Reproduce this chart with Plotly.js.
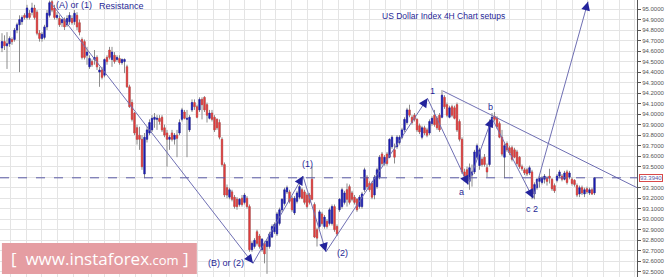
<!DOCTYPE html>
<html><head><meta charset="utf-8">
<script src="https://cdn.plot.ly/plotly-3.0.1.min.js"></script>
<style>html,body{margin:0;padding:0;background:#fff}#chart{width:665px;height:277px}</style>
</head><body><div id="chart"></div>
<script>
// US Dollar Index, 4H candles
const open = [
94.63,94.69,94.65,94.67,94.71,94.71,94.80,94.85,94.88,94.94,
94.92,94.96,94.97,95.01,94.97,94.77,94.72,94.73,94.83,94.94,
95.07,95.01,94.92,94.91,94.87,94.90,94.85,94.88,94.91,94.88,
94.94,94.87,94.71,94.69,94.56,94.45,94.50,94.52,94.54,94.40,
94.42,94.37,94.54,94.61,94.52,94.56,94.52,94.53,94.49,94.50,
94.45,94.26,94.11,94.01,93.87,93.80,93.76,93.43,93.76,93.82,
93.85,93.95,93.95,93.96,93.97,93.87,93.82,93.76,93.82,93.76,
93.80,93.82,93.95,94.02,93.95,93.85,94.04,94.11,94.07,94.04,
94.14,94.16,94.09,93.96,94.01,93.97,93.95,93.92,93.76,93.52,
93.30,93.21,93.26,93.21,93.19,93.14,93.20,93.16,93.20,93.12,
92.71,92.74,92.88,92.84,92.71,92.77,92.74,92.74,92.83,92.88,
92.86,92.96,93.09,93.15,93.26,93.26,93.20,93.06,93.17,93.21,
93.28,93.26,93.23,93.23,93.38,93.14,92.90,92.93,93.05,92.93,
92.98,92.96,92.96,93.12,92.93,93.09,93.12,93.16,93.28,93.31,
93.25,93.21,93.19,93.12,93.12,93.28,93.40,93.34,93.34,93.23,
93.31,93.40,93.62,93.53,93.62,93.59,93.69,93.66,93.69,93.73,
93.78,93.85,93.92,94.04,93.97,93.99,93.95,93.89,93.78,93.87,
93.85,93.82,93.91,93.99,93.96,93.99,93.97,94.16,94.09,93.97,
94.07,94.06,94.09,93.93,93.76,93.45,93.47,93.36,93.42,93.45,
93.59,93.51,93.57,93.59,93.49,93.52,93.89,93.98,93.96,93.91,
93.78,93.59,93.72,93.68,93.68,93.66,93.64,93.59,93.50,93.47,
93.47,93.44,93.45,93.24,93.30,93.36,93.35,93.38,93.39,93.41,
93.38,93.32,93.37,93.41,93.41,93.38,93.45,93.40,93.38,93.37,
93.32,93.24,93.30,93.24,93.29,93.25,93.28,93.25];
const high = [
94.77,94.75,94.78,94.74,94.73,94.82,94.87,94.94,94.94,94.96,
95.04,94.99,95.06,95.04,94.99,94.80,94.78,94.85,94.99,95.08,
95.09,95.04,94.97,94.94,94.91,94.92,94.94,94.97,94.94,94.99,
94.97,94.90,94.73,94.71,94.64,94.56,94.52,94.61,94.56,94.45,
94.45,94.53,94.56,94.64,94.64,94.59,94.56,94.56,94.53,94.53,
94.47,94.28,94.14,94.02,93.90,93.88,93.80,93.82,93.88,93.95,
93.99,94.01,93.99,93.99,93.99,93.90,93.85,93.80,93.85,93.82,
93.85,93.95,94.06,94.04,94.04,93.99,94.14,94.14,94.09,94.16,
94.16,94.17,94.11,94.04,94.04,93.99,93.96,93.95,93.78,93.54,
93.33,93.30,93.28,93.23,93.21,93.20,93.23,93.25,93.22,93.14,
92.79,92.82,92.90,92.86,92.82,92.79,92.81,92.88,92.95,92.97,
93.07,93.11,93.20,93.30,93.32,93.28,93.22,93.22,93.27,93.33,
93.30,93.28,93.25,93.25,93.50,93.16,92.92,93.09,93.07,93.04,
93.00,93.11,93.14,93.14,92.95,93.20,93.30,93.27,93.34,93.33,
93.27,93.23,93.20,93.23,93.26,93.49,93.42,93.36,93.36,93.42,
93.49,93.61,93.64,93.61,93.64,93.77,93.80,93.72,93.80,93.80,
93.87,93.97,94.06,94.09,93.99,94.01,93.96,93.91,93.89,93.89,
93.87,93.95,93.98,94.04,93.98,94.01,94.23,94.18,94.11,94.08,
94.09,94.08,94.11,93.95,93.78,93.48,93.50,93.53,93.52,93.66,
93.72,93.68,93.59,93.62,93.53,93.95,94.01,94.02,93.98,93.93,
93.85,93.72,93.74,93.70,93.70,93.68,93.66,93.60,93.52,93.49,
93.49,93.51,93.47,93.35,93.39,93.41,93.41,93.43,93.41,93.48,
93.39,93.34,93.43,93.47,93.43,93.46,93.47,93.46,93.40,93.38,
93.34,93.32,93.32,93.30,93.31,93.30,93.30,93.40];
const low = [
94.59,94.61,94.43,94.64,94.66,94.69,94.77,94.40,94.85,94.90,
94.90,94.90,94.94,94.90,94.75,94.69,94.69,94.71,94.80,94.92,
94.97,94.90,94.90,94.83,94.83,94.80,94.83,94.85,94.85,94.85,
94.80,94.75,94.52,94.52,94.47,94.43,94.45,94.47,94.42,94.26,
94.33,94.35,94.47,94.52,94.45,94.48,94.50,94.47,94.47,94.39,
94.25,94.06,93.93,93.80,93.71,93.66,93.47,93.39,93.73,93.80,
93.83,93.87,93.85,93.90,93.83,93.78,93.50,93.66,93.74,93.71,
93.59,93.80,93.93,93.95,93.59,93.83,94.02,94.04,93.96,94.02,
93.95,94.02,93.92,93.95,93.93,93.83,93.85,93.76,93.50,93.21,
93.20,93.19,93.17,93.10,93.09,93.12,93.12,93.14,93.10,92.69,
92.69,92.72,92.75,92.72,92.69,92.58,92.48,92.72,92.82,92.86,
92.84,92.94,93.07,93.13,93.24,93.15,93.07,93.04,93.15,93.19,
93.19,93.14,93.10,93.14,93.18,92.82,92.74,92.91,92.94,92.91,
92.91,92.94,92.94,92.88,92.84,93.07,93.10,93.14,93.12,93.14,
93.17,93.14,93.07,93.10,93.10,93.26,93.29,93.26,93.19,93.19,
93.29,93.38,93.51,93.51,93.51,93.58,93.67,93.53,93.67,93.71,
93.76,93.83,93.90,93.97,93.90,93.93,93.83,93.81,93.76,93.80,
93.78,93.80,93.89,93.88,93.85,93.83,93.96,94.05,93.97,93.96,
93.97,93.95,93.83,93.74,93.43,93.39,93.38,93.28,93.31,93.43,
93.57,93.47,93.50,93.50,93.40,93.50,93.87,93.93,93.86,93.77,
93.60,93.39,93.64,93.61,93.55,93.58,93.51,93.48,93.46,93.42,
93.41,93.42,93.19,93.19,93.28,93.30,93.33,93.34,93.32,93.34,
93.27,93.25,93.35,93.39,93.36,93.37,93.33,93.38,93.32,93.31,
93.21,93.21,93.23,93.21,93.24,93.23,93.23,93.23];
const close = [
94.69,94.65,94.67,94.72,94.69,94.80,94.85,94.90,94.92,94.92,
95.01,94.92,95.01,94.92,94.77,94.72,94.76,94.83,94.96,95.06,
94.99,94.92,94.94,94.85,94.90,94.83,94.91,94.94,94.87,94.96,
94.83,94.78,94.54,94.54,94.59,94.53,94.47,94.54,94.45,94.42,
94.35,94.52,94.50,94.54,94.59,94.50,94.54,94.49,94.52,94.52,
94.26,94.07,93.95,93.82,93.76,93.76,93.50,93.78,93.85,93.92,
93.96,93.97,93.96,93.93,93.85,93.80,93.76,93.78,93.76,93.80,
93.77,93.92,94.04,93.96,93.96,93.97,94.11,94.07,93.97,94.14,
94.09,94.04,93.99,94.01,93.95,93.85,93.87,93.78,93.52,93.23,
93.23,93.28,93.19,93.12,93.12,93.19,93.14,93.23,93.12,92.71,
92.77,92.80,92.77,92.74,92.81,92.67,92.79,92.86,92.93,92.95,
93.05,93.09,93.19,93.28,93.30,93.17,93.09,93.20,93.25,93.31,
93.20,93.16,93.12,93.16,93.19,92.83,92.82,93.07,92.96,93.02,
92.93,93.09,93.12,92.90,92.86,93.19,93.28,93.25,93.19,93.16,
93.19,93.16,93.09,93.21,93.24,93.47,93.31,93.28,93.21,93.40,
93.47,93.59,93.53,93.59,93.53,93.76,93.78,93.59,93.78,93.78,
93.85,93.95,94.04,93.99,93.92,93.95,93.85,93.83,93.87,93.82,
93.80,93.93,93.96,93.90,93.87,93.85,94.18,94.07,93.99,94.06,
93.99,93.96,93.85,93.76,93.45,93.41,93.39,93.49,93.45,93.64,
93.70,93.66,93.52,93.52,93.45,93.89,93.97,93.95,93.88,93.78,
93.62,93.70,93.66,93.63,93.57,93.59,93.53,93.50,93.48,93.44,
93.43,93.49,93.23,93.33,93.38,93.39,93.39,93.41,93.36,93.39,
93.29,93.27,93.41,93.45,93.38,93.44,93.35,93.44,93.34,93.33,
93.23,93.30,93.25,93.28,93.26,93.28,93.24,93.394];

// Price-axis tick labels
const yTicks = [92.5,92.6,92.7,92.8,92.9,93.0,93.1,93.2,93.3,93.5,93.6,93.7,93.8,93.9,
                94.0,94.1,94.2,94.3,94.4,94.5,94.6,94.7,94.8,94.9,95.0];

// Elliott wave count drawn on the chart (candle index, price)
const mainDropX = [19.2, 100.4];
const mainDropY = [95.07, 92.58];
const waveX = [100.4, 120.4, 129.6, 170.2, 186.4, 196.0, 212.4, 234.4];
const waveY = [92.58, 93.41, 92.69, 94.15, 93.33, 93.96, 93.20, 95.07];
const resistX = [176.4, 254.0];
const resistY = [94.22, 93.30];
const waveLabels = ['(B) or (2)', '(1)', '(2)', '1', 'a', 'b', 'c 2'];
const labelX = [89.6, 122.0, 136.0, 172.0, 183.6, 195.2, 212.0];
const labelY = [92.58, 93.53, 92.68, 94.22, 93.26, 94.07, 93.10];
const chartTitle = 'US Dollar Index 4H Chart setups';

const idx = open.map((_, i) => i);
const bodyHigh = open.map((o, i) => Math.max(o, close[i]));
const bodyLow = open.map((o, i) => Math.min(o, close[i]));
const last = close[close.length - 1];

const lineCol = '#6f6fb3', headCol = '#23239c', txtCol = '#1f1f96';
const W = 665, H = 277, M = {l: 0, r: 28, t: 0, b: 0};
const xr = [-0.8, 254.0], yr = [92.45, 95.086];
const pxX = (W - M.l - M.r) / (xr[1] - xr[0]);
const pxY = (H - M.t - M.b) / (yr[1] - yr[0]);

const traces = [
  {type: 'candlestick', x: idx, open: open, high: high, low: low, close: close,
   increasing: {line: {color: '#8c8c8c', width: 1}, fillcolor: '#8c8c8c'},
   decreasing: {line: {color: '#8c8c8c', width: 1}, fillcolor: '#8c8c8c'},
   whiskerwidth: 0, hoverinfo: 'skip', showlegend: false},
  {type: 'candlestick', x: idx, open: open, high: bodyHigh, low: bodyLow, close: close,
   increasing: {line: {color: '#1c1cb4', width: 0.6}, fillcolor: '#1c1cb4'},
   decreasing: {line: {color: '#e23b3b', width: 0.6}, fillcolor: '#e23b3b'},
   whiskerwidth: 0, hoverinfo: 'skip', showlegend: false},
  {type: 'scatter', mode: 'lines', x: mainDropX, y: mainDropY,
   line: {color: lineCol, width: 1}, hoverinfo: 'skip', showlegend: false},
  {type: 'scatter', mode: 'lines', x: waveX, y: waveY,
   line: {color: lineCol, width: 1}, hoverinfo: 'skip', showlegend: false},
  {type: 'scatter', mode: 'lines', x: resistX, y: resistY,
   line: {color: lineCol, width: 1}, hoverinfo: 'skip', showlegend: false}
];

function arrowAt(x, y, px, py) {
  const dx = (x - px) * pxX, dy = -(y - py) * pxY;
  const len = Math.sqrt(dx * dx + dy * dy);
  return {x: x, y: y, xref: 'x', yref: 'y', text: '', showarrow: true,
    arrowhead: 2, arrowsize: 1.6, arrowwidth: 1.1, arrowcolor: headCol,
    ax: -dx / len * 9, ay: -dy / len * 9, standoff: 0};
}
const ann = [];
ann.push(arrowAt(mainDropX[1], mainDropY[1], mainDropX[0], mainDropY[0]));
for (let i = 1; i < waveX.length; i++) ann.push(arrowAt(waveX[i], waveY[i], waveX[i-1], waveY[i-1]));
const f = {family: 'Liberation Sans, Arial, sans-serif', size: 9, color: txtCol};
waveLabels.forEach((t, i) => ann.push({x: labelX[i], y: labelY[i], xref: 'x', yref: 'y',
  text: t, showarrow: false, font: f, xanchor: 'center', yanchor: 'middle'}));
ann.push({x: 0.116, y: 0.982, xref: 'paper', yref: 'paper', text: '(A) or (1)', showarrow: false, font: f, xanchor: 'center', yanchor: 'middle'});
ann.push({x: 0.19, y: 0.978, xref: 'paper', yref: 'paper', text: 'Resistance', showarrow: false, font: f, xanchor: 'center', yanchor: 'middle'});
ann.push({x: 0.697, y: 0.942, xref: 'paper', yref: 'paper', text: chartTitle, showarrow: false,
  font: {family: f.family, size: 8.5, color: txtCol}, xanchor: 'center', yanchor: 'middle'});
ann.push({x: 1, y: last, xref: 'paper', yref: 'y', xanchor: 'left', yanchor: 'middle', xshift: 2,
  text: last.toFixed(4), showarrow: false, bgcolor: '#ffffff', bordercolor: '#d94a4a', borderwidth: 1, borderpad: 0,
  font: {family: 'Liberation Sans, Arial, sans-serif', size: 6, color: '#5a5aa5'}});
ann.push({x: 0.157, y: 0.066, xref: 'paper', yref: 'paper', xanchor: 'center', yanchor: 'middle', showarrow: false,
  text: '[\u00a0\u00a0www.instaforex<span style="font-size:13px">.com</span>\u00a0]',
  font: {family: 'Open Sans, Liberation Sans, sans-serif', size: 17, color: '#ffffff'}});

const layout = {
  width: W, height: H, margin: M, paper_bgcolor: '#ffffff', plot_bgcolor: '#ffffff',
  showlegend: false, dragmode: false,
  xaxis: {range: xr, rangeslider: {visible: false}, showticklabels: false, ticks: '',
    showgrid: true, gridcolor: '#e4e4e4', gridwidth: 1, tick0: 3.5, dtick: 6.24,
    zeroline: false, showline: false, fixedrange: true},
  yaxis: {range: yr, side: 'right', tickmode: 'array', tickvals: yTicks,
    ticktext: yTicks.map(v => v.toFixed(4)),
    showgrid: true, gridcolor: '#e4e4e4', gridwidth: 1, zeroline: false,
    minor: {tick0: 92.5, dtick: 0.1, showgrid: true, gridcolor: '#e4e4e4', gridwidth: 1, ticks: ''},
    showline: true, linecolor: '#555555', linewidth: 1, ticks: 'outside', ticklen: 3,
    tickcolor: '#555555', tickfont: {family: 'Liberation Sans, Arial, sans-serif', size: 6, color: '#555555'},
    fixedrange: true},
  shapes: [
    {type: 'line', xref: 'paper', yref: 'y', x0: 0, x1: 1, y0: last, y1: last,
     line: {color: '#5a5aa5', width: 1, dash: 'dash'}},
    {type: 'rect', xref: 'paper', yref: 'paper', x0: 0.003, x1: 0.309, y0: 0.011, y1: 0.123,
     fillcolor: '#e59da2', line: {width: 0}, layer: 'above'}
  ],
  annotations: ann
};
Plotly.newPlot('chart', traces, layout, {staticPlot: true, displayModeBar: false});
</script></body></html>
